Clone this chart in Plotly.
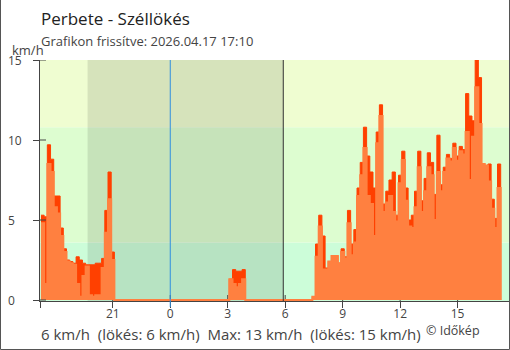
import plotly.graph_objects as go
import pandas as pd

# ---------------- data (10-minute steps, 2026-04-16 17:15 -> 2026-04-17 17:15) ----------------
start_time = "2026-04-16 17:15"
step = "10min"

gust = [
    5.3, 5.2, 9.7, 8.8, 6.5, 6.5, 4.5, 3.2, 2.5, 2.4,
    2.3, 2.7, 2.5, 2.3, 2.2, 2.2, 2.2, 2.3, 2.3, 2.6,
    5.6, 8.0, 3.0,
    0, 0, 0, 0, 0, 0, 0, 0, 0, 0, 0, 0, 0, 0, 0, 0, 0, 0,
    0, 0, 0, 0, 0, 0, 0, 0, 0, 0, 0, 0, 0, 0, 0, 0, 0, 0,
    1.3, 1.9, 1.8, 1.8, 1.9,
    0, 0, 0, 0, 0, 0, 0, 0, 0, 0, 0, 0, 0, 0, 0, 0, 0, 0, 0, 0, 0,
    0.2, 3.5, 5.3, 4.0, 2.0, 2.4, 2.75, 2.75, 2.3, 3.2,
    2.7, 5.6, 3.5, 4.4, 7.0, 8.6, 10.8, 9.0, 8.0, 7.0,
    10.5, 12.2, 6.0, 6.8, 7.5, 8.0, 5.3, 7.8, 9.3, 7.0,
    5.0, 5.3, 6.8, 9.3, 6.2, 7.6, 9.2, 8.6, 6.6, 10.3,
    7.2, 8.3, 9.1, 8.85, 9.8, 9.0, 9.6, 9.4, 12.9, 11.5,
    11.2, 15.0, 13.9, 8.5, 8.4, 8.5, 6.3, 5.1, 8.5,
    0,
]

speed = [
    4.8, 1.0, 8.5, 8.0, 5.8, 5.4, 4.0, 3.0, 2.4, 2.3,
    2.2, 1.0, 0.2, 1.5, 2.1, 0.3, 0.2, 0.3, 0.3, 2.0,
    4.2, 6.3, 2.5,
    0, 0, 0, 0, 0, 0, 0, 0, 0, 0, 0, 0, 0, 0, 0, 0, 0, 0,
    0, 0, 0, 0, 0, 0, 0, 0, 0, 0, 0, 0, 0, 0, 0, 0, 0, 0,
    1.3, 1.0, 0.8, 1.0, 1.3,
    0, 0, 0, 0, 0, 0, 0, 0, 0, 0, 0, 0, 0, 0, 0, 0, 0, 0, 0, 0, 0,
    0.2, 2.7, 4.6, 1.9, 1.9, 2.4, 2.75, 2.75, 2.3, 3.0,
    2.6, 4.8, 2.8, 3.6, 6.5, 7.8, 9.5, 6.5, 6.0, 4.0,
    9.8, 11.5, 5.5, 6.1, 6.5, 5.5, 4.9, 7.3, 8.75, 6.2,
    4.6, 4.5, 5.8, 8.3, 5.5, 6.8, 8.3, 7.8, 5.0, 8.0,
    6.8, 8.0, 8.85, 8.65, 9.5, 8.7, 9.3, 9.1, 10.5, 7.5,
    10.2, 13.3, 11.0, 8.5, 8.4, 7.4, 5.7, 4.5, 7.0,
    0,
]

x_tick_vals = ["2026-04-16 21:00", "2026-04-17 00:00", "2026-04-17 03:00",
               "2026-04-17 06:00", "2026-04-17 09:00", "2026-04-17 12:00",
               "2026-04-17 15:00"]
x_tick_text = ["21", "0", "3", "6", "9", "12", "15"]
y_tick_vals = [0, 5, 10, 15]
y_tick_text = ["0", "5", "10", "15"]

x_range = ["2026-04-16 17:12", "2026-04-17 17:41"]
y_range = [-0.0625, 15]

band_limits = [-0.1, 3.6, 10.8, 15]
band_colors = ["#ccfdd9", "#ddfdd0", "#effdd1"]
night_span = ["2026-04-16 19:41", "2026-04-17 05:54"]
midnight = "2026-04-17 00:00"
sunrise = "2026-04-17 05:54"

title_text = "Perbete - Széllökés"
subtitle_text = "Grafikon frissítve: 2026.04.17 17:10"
unit_text = "km/h"
footer_text = "6 km/h\u00a0\u00a0(lökés: 6 km/h)\u00a0\u00a0Max: 13 km/h\u00a0\u00a0(lökés: 15 km/h)"
credit_text = "© Időkép"

# ---------------- figure ----------------
W, H = 510, 350
ML, MR, MT, MB = 40, 1, 60, 49
PW, PH = W - ML - MR, H - MT - MB

def px_x(px):
    return (px - ML) / PW

def px_y(py):
    return (H - MB - py) / PH

FONT = "Open Sans"
times = pd.date_range(start_time, periods=len(gust), freq=step)

fig = go.Figure()
fig.add_trace(go.Scatter(
    x=times, y=gust, mode="lines", line=dict(shape="hv", color="#ff4000", width=1),
    fill="tozeroy", fillcolor="#ff4000", hoverinfo="skip", showlegend=False))
fig.add_trace(go.Scatter(
    x=times, y=speed, mode="lines", line=dict(shape="hv", color="#ff8040", width=2),
    fill="tozeroy", fillcolor="#ff8040", hoverinfo="skip", showlegend=False))

shapes = []
for lo, hi, c in zip(band_limits[:-1], band_limits[1:], band_colors):
    shapes.append(dict(type="rect", xref="paper", yref="y", x0=0, x1=1, y0=lo, y1=hi,
                       fillcolor=c, line=dict(width=0), layer="below"))
shapes.append(dict(type="rect", xref="x", yref="paper", x0=night_span[0], x1=night_span[1],
                   y0=0, y1=1, fillcolor="rgba(0,0,0,0.1)", line=dict(width=0), layer="below"))
# inside parts of the crossing ticks
for tv in x_tick_vals:
    shapes.append(dict(type="line", xref="x", yref="paper", x0=tv, x1=tv, y0=0, y1=6 / PH,
                       line=dict(color="#444", width=1), layer="below"))
for tv in y_tick_vals:
    shapes.append(dict(type="line", xref="paper", yref="y", x0=0, x1=6 / PW, y0=tv, y1=tv,
                       line=dict(color="#444", width=1), layer="above"))
# midnight & sunrise lines
shapes.append(dict(type="line", xref="x", yref="paper", x0=midnight, x1=midnight,
                   y0=-6 / PH, y1=1, line=dict(color="#2f8fe0", width=1), layer="above"))
shapes.append(dict(type="line", xref="x", yref="paper", x0=sunrise, x1=sunrise,
                   y0=0, y1=1, line=dict(color="#333", width=1), layer="above"))
# frame
for x0, y0, x1, y1 in [(0.5, 0, 0.5, 349.5), (509.5, 0, 509.5, 349.5), (0.5, 349.5, 509.5, 349.5)]:
    shapes.append(dict(type="line", xref="paper", yref="paper", x0=px_x(x0), x1=px_x(x1),
                       y0=px_y(y0), y1=px_y(y1), line=dict(color="#555", width=1), layer="above"))

annotations = []
for tv, tt in zip(y_tick_vals, y_tick_text):
    annotations.append(dict(text=tt, xref="paper", yref="y", x=px_x(6), y=tv,
                            xanchor="left", yanchor="middle", showarrow=False,
                            font=dict(family=FONT, size=12, color="#444")))
annotations += [
    dict(text=title_text, xref="paper", yref="paper", x=px_x(39), y=px_y(19),
         xanchor="left", yanchor="middle", showarrow=False,
         font=dict(family=FONT, size=17, color="#222")),
    dict(text=subtitle_text, xref="paper", yref="paper", x=px_x(39), y=px_y(41),
         xanchor="left", yanchor="middle", showarrow=False,
         font=dict(family=FONT, size=13, color="#444")),
    dict(text=unit_text, xref="paper", yref="paper", x=px_x(28), y=px_y(50.5),
         xanchor="center", yanchor="middle", showarrow=False,
         font=dict(family=FONT, size=13, color="#444")),
    dict(text=footer_text, xref="paper", yref="paper", x=px_x(39), y=px_y(334),
         xanchor="left", yanchor="middle", showarrow=False,
         font=dict(family=FONT, size=15, color="#444")),
    dict(text=credit_text, xref="paper", yref="paper", x=px_x(424), y=px_y(330),
         xanchor="left", yanchor="middle", showarrow=False,
         font=dict(family=FONT, size=12.5, color="#444")),
]

fig.update_layout(
    width=W, height=H, margin=dict(l=ML, r=MR, t=MT, b=MB),
    paper_bgcolor="white", plot_bgcolor="white",
    shapes=shapes, annotations=annotations, showlegend=False,
    xaxis=dict(type="date", range=x_range, tickmode="array",
               tickvals=[x_range[0]] + x_tick_vals, ticktext=[""] + x_tick_text,
               ticks="outside", ticklen=6, tickcolor="#444", showline=True,
               linecolor="#444", showgrid=False, zeroline=False, ticklabelstandoff=-4,
               tickfont=dict(family=FONT, size=12, color="#444")),
    yaxis=dict(range=y_range, tickmode="array", tickvals=y_tick_vals,
               ticks="outside", ticklen=6, tickcolor="#444", showline=True,
               linecolor="#444", showgrid=False, zeroline=False, showticklabels=False),
)

fig.write_html("out.html")
